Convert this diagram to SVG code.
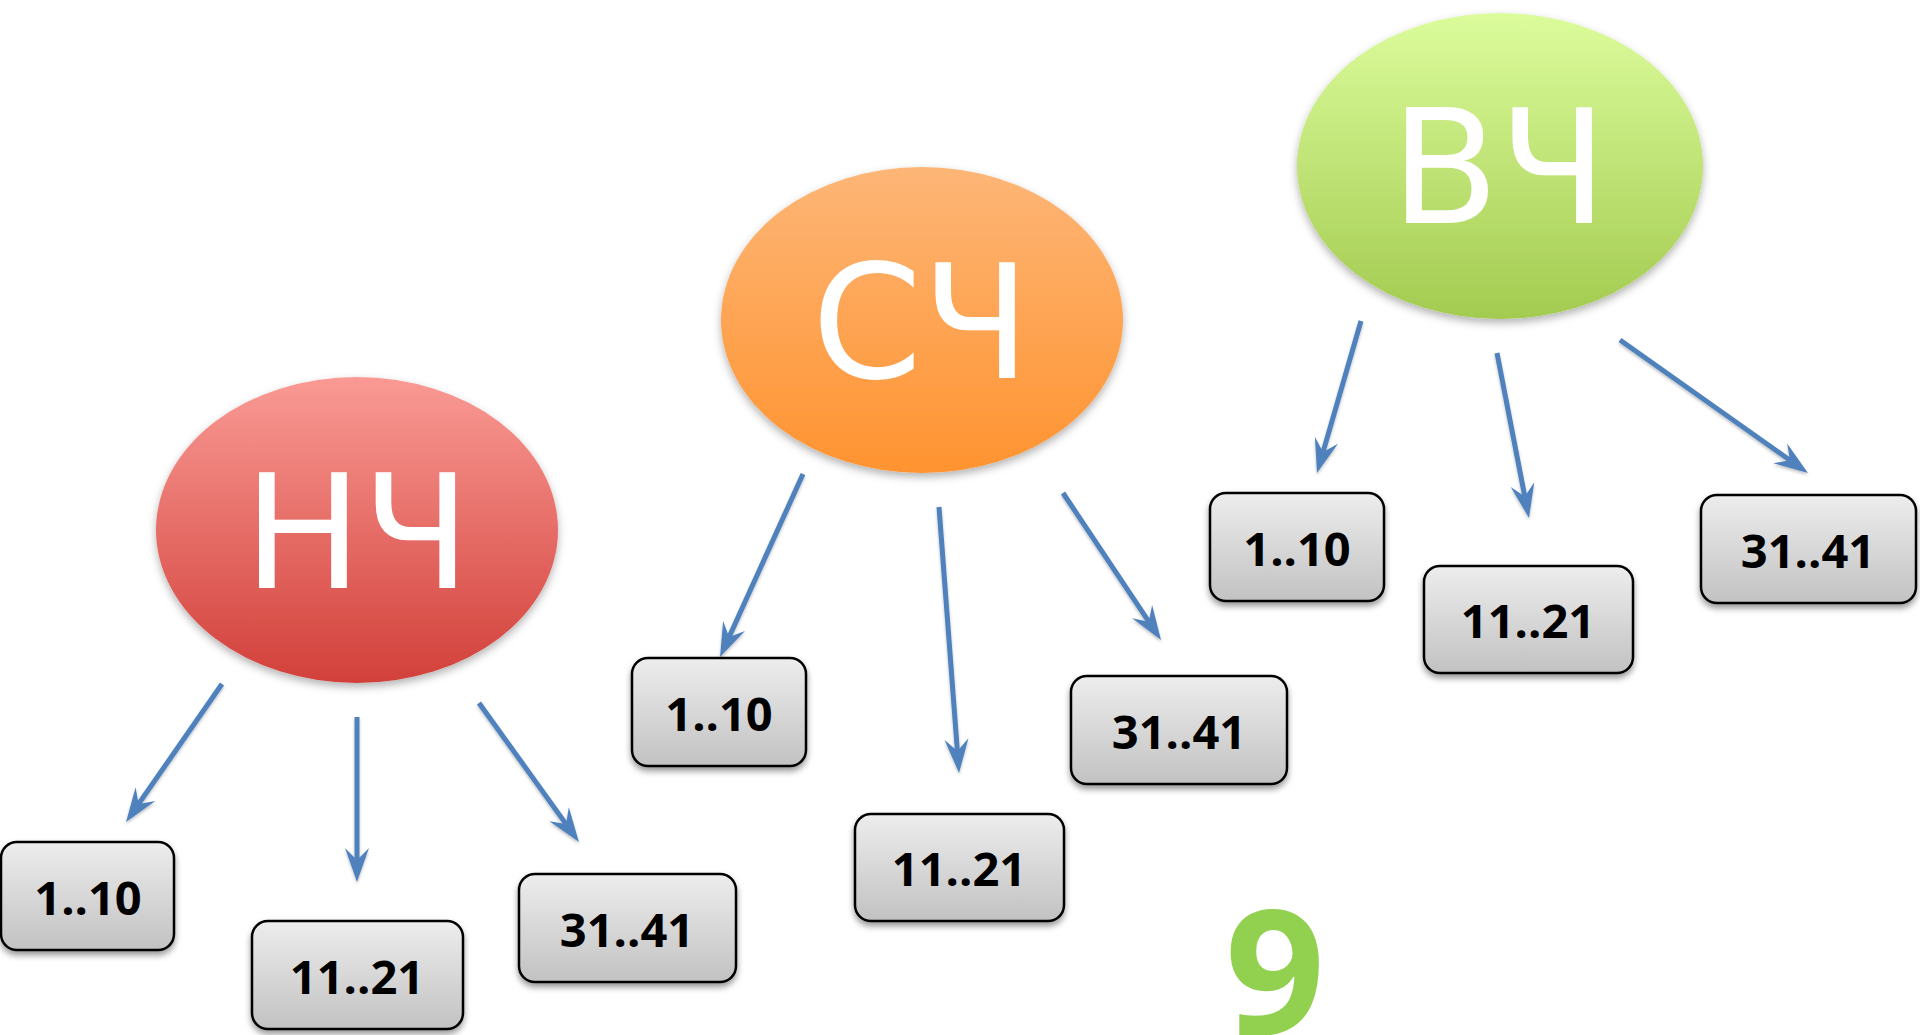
<svg xmlns="http://www.w3.org/2000/svg" width="1920" height="1035" viewBox="0 0 1920 1035">
<style>
.ell-text{font-family:"DejaVu Sans","Liberation Sans",sans-serif;font-size:158px;fill:#ffffff;text-anchor:middle}
.box{fill:url(#gBox);stroke:#000;stroke-width:2.5;filter:url(#shBox)}
.box-text{font-family:"Open Sans","Liberation Sans",sans-serif;font-weight:700;font-size:47px;fill:#000;text-anchor:middle}
.conn{stroke:#4F81BD;stroke-width:5;fill:none;marker-end:url(#ah)}
</style>
<defs>
<linearGradient id="gRed" x1="0" y1="0" x2="0" y2="1">
<stop offset="0" stop-color="#FA9A94"/><stop offset="1" stop-color="#D2403A"/>
</linearGradient>
<linearGradient id="gOrange" x1="0" y1="0" x2="0" y2="1">
<stop offset="0" stop-color="#FDB677"/><stop offset="1" stop-color="#FF9330"/>
</linearGradient>
<linearGradient id="gGreen" x1="0" y1="0" x2="0" y2="1">
<stop offset="0" stop-color="#DCFC9C"/><stop offset="1" stop-color="#A3CB50"/>
</linearGradient>
<linearGradient id="gBox" x1="0" y1="0" x2="0" y2="1">
<stop offset="0" stop-color="#EDEDED"/><stop offset="1" stop-color="#C2C2C2"/>
</linearGradient>
<filter id="shEll" x="-10%" y="-10%" width="120%" height="130%">
<feDropShadow dx="0" dy="4" stdDeviation="4" flood-color="#000" flood-opacity="0.3"/>
</filter>
<filter id="shBox" x="-10%" y="-10%" width="120%" height="140%">
<feDropShadow dx="0" dy="4" stdDeviation="3" flood-color="#000" flood-opacity="0.4"/>
</filter>
<filter id="shLine" x="-20%" y="-20%" width="140%" height="140%">
<feDropShadow dx="0" dy="2" stdDeviation="1.5" flood-color="#000" flood-opacity="0.25"/>
</filter>
<marker id="ah" markerUnits="userSpaceOnUse" orient="auto" refX="0" refY="0" markerWidth="40" markerHeight="40" overflow="visible">
<path d="M22,0 L-12,-12 L0,0 L-12,12 Z" fill="#4F81BD"/>
</marker>
</defs>
<rect width="1920" height="1035" fill="#ffffff"/>

<g id="node-nch">
<ellipse cx="357" cy="530" rx="201" ry="153" fill="url(#gRed)" filter="url(#shEll)"/>
<text class="ell-text" x="357" y="588">НЧ</text>
</g>
<g id="node-sch">
<ellipse cx="922" cy="320" rx="201" ry="153" fill="url(#gOrange)" filter="url(#shEll)"/>
<text class="ell-text" x="921" y="378">СЧ</text>
</g>
<g id="node-vch">
<ellipse cx="1500" cy="166" rx="203" ry="153" fill="url(#gGreen)" filter="url(#shEll)"/>
<text class="ell-text" x="1499" y="223">ВЧ</text>
</g>

<g id="connectors" filter="url(#shLine)">
<line class="conn" x1="222" y1="684" x2="138.6" y2="803.9"/>
<line class="conn" x1="357" y1="717" x2="357" y2="860"/>
<line class="conn" x1="479" y1="703" x2="566.1" y2="824.1"/>
<line class="conn" x1="803" y1="474" x2="729.1" y2="637"/>
<line class="conn" x1="939" y1="507" x2="957.4" y2="751.1"/>
<line class="conn" x1="1063" y1="493" x2="1148.8" y2="621.7"/>
<line class="conn" x1="1361" y1="321" x2="1323.1" y2="451.9"/>
<line class="conn" x1="1497" y1="353" x2="1524.8" y2="496.4"/>
<line class="conn" x1="1620" y1="340" x2="1790" y2="460.3"/>
</g>

<g id="nch-1-10"><rect class="box" x="1" y="842" width="173" height="108" rx="16"/><text class="box-text" x="88" y="915">1..10</text></g>
<g id="nch-11-21"><rect class="box" x="252" y="921" width="211" height="108" rx="16"/><text class="box-text" x="357" y="994">11..21</text></g>
<g id="nch-31-41"><rect class="box" x="519" y="874" width="217" height="108" rx="16"/><text class="box-text" x="627" y="947">31..41</text></g>

<g id="sch-1-10"><rect class="box" x="632" y="658" width="174" height="108" rx="16"/><text class="box-text" x="719" y="731">1..10</text></g>
<g id="sch-11-21"><rect class="box" x="855" y="814" width="209" height="107" rx="16"/><text class="box-text" x="959" y="886">11..21</text></g>
<g id="sch-31-41"><rect class="box" x="1071" y="676" width="216" height="108" rx="16"/><text class="box-text" x="1179" y="749">31..41</text></g>

<g id="vch-1-10"><rect class="box" x="1210" y="493" width="174" height="108" rx="16"/><text class="box-text" x="1297" y="566">1..10</text></g>
<g id="vch-11-21"><rect class="box" x="1424" y="566" width="209" height="107" rx="16"/><text class="box-text" x="1528" y="638">11..21</text></g>
<g id="vch-31-41"><rect class="box" x="1701" y="495" width="215" height="108" rx="16"/><text class="box-text" x="1808" y="568">31..41</text></g>

<text x="1275" y="1035" font-family="Open Sans, Liberation Sans, sans-serif" font-weight="700" font-size="175" fill="#92D050" text-anchor="middle">9</text>
</svg>
